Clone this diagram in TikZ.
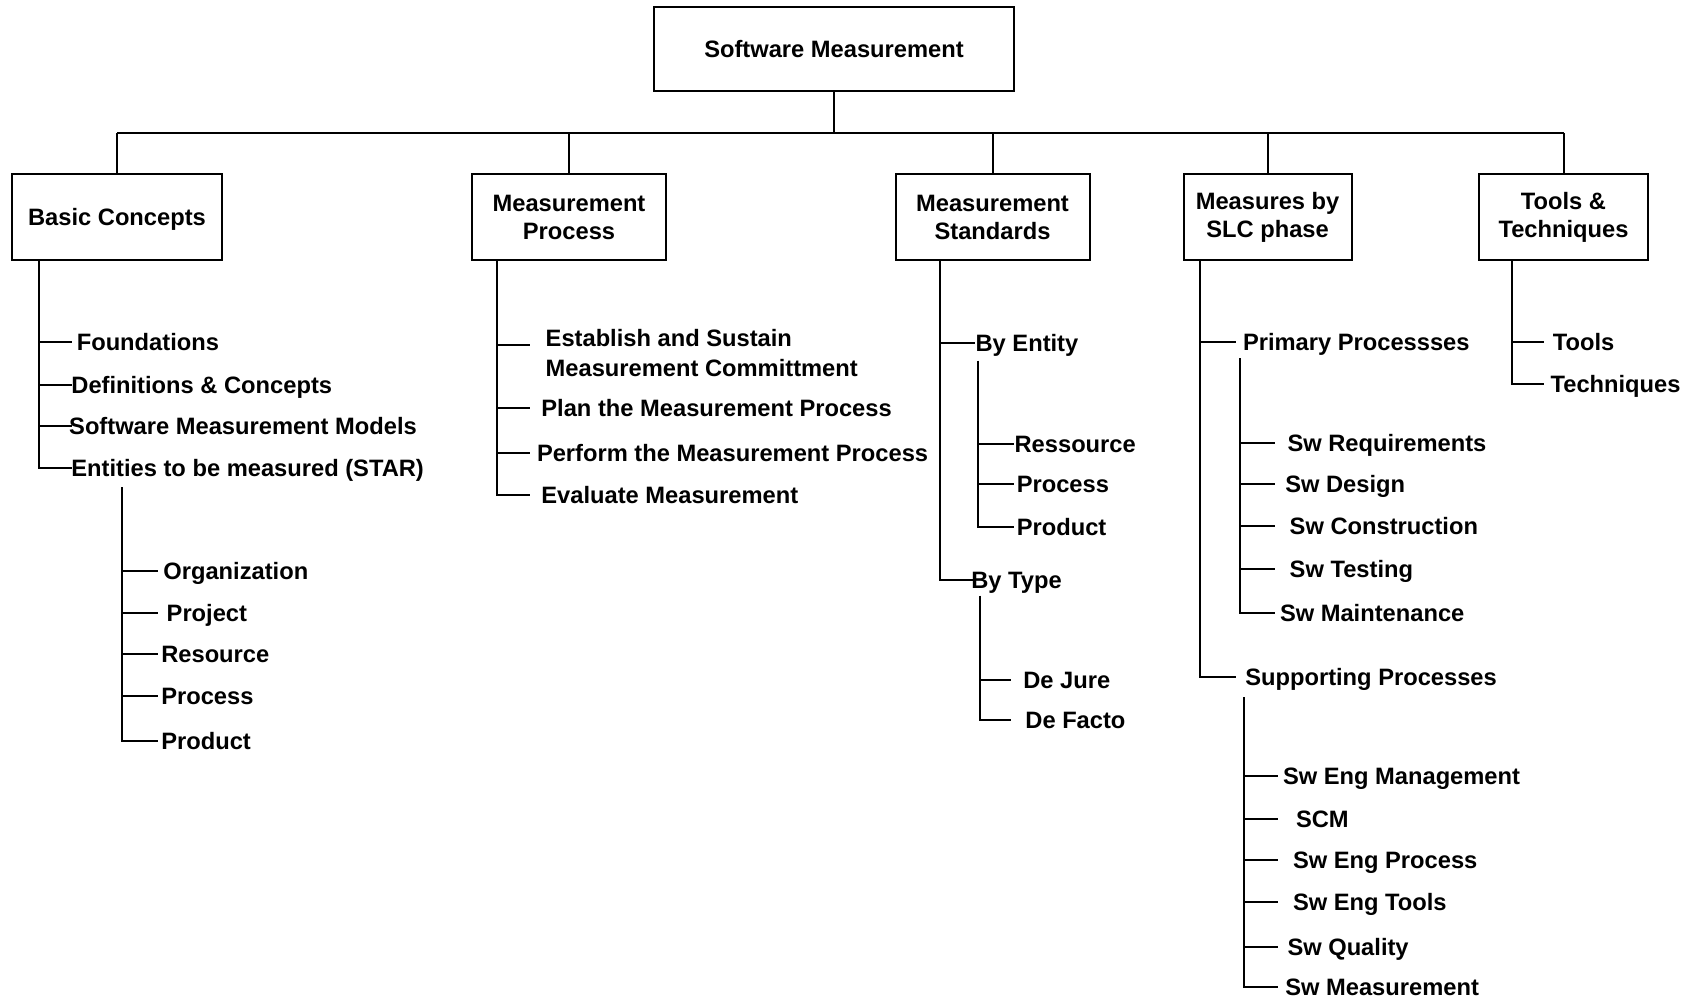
\documentclass[tikz,border=0pt]{standalone}
\usepackage{fontspec}
\setmainfont{Liberation Sans}
\usepackage{tikz}

\tikzset{
  box/.style={draw, line width=1pt, align=center, minimum height=43pt,
    font=\bfseries\fontsize{11.85}{14}\selectfont},
  item/.style={anchor=west, inner sep=0pt, text height=8.5pt, text depth=0pt,
    font=\bfseries\fontsize{11.85}{14}\selectfont}
}

\begin{document}
\begin{tikzpicture}[x=0.5pt,y=-0.5pt,line width=1pt]
  \useasboundingbox (0,0) rectangle (1698,1001);

  % root and bus
  \node[box, minimum width=180pt, minimum height=42pt] (sm) at (834,48.7) {Software Measurement};
  \coordinate (busL) at (117,132.7);
  \coordinate (busR) at (1563.8,132.7);
  \draw (sm.south) -- (sm.south |- busL);
  \draw (busL) -- (busR);

  % main areas
  \node[box, minimum width=105pt, text height=8.5pt, text depth=0pt] (bc) at (117,217) {Basic Concepts};
  \node[box, minimum width=97pt] (mp) at (569,217) {Measurement\\Process};
  \node[box, minimum width=97pt] (ms) at (992.5,217) {Measurement\\Standards};
  \node[box, minimum width=84pt] (slc) at (1267.6,217) {Measures by\\SLC phase};
  \node[box, minimum width=84.5pt] (tt) at (1563.5,217) {Tools \&\\Techniques};
  \foreach \b in {bc,mp,ms,slc,tt}
    \draw (\b.north) -- (\b.north |- busL);

  % Basic Concepts
  \coordinate (bcstem) at (39,0);
  \coordinate (bcend) at (71.5,0);
  \foreach \nm/\tx/\y/\txt in {found/75.8/342/Foundations,
      defs/70.4/384.5/Definitions \& Concepts,
      models/68.2/425.6/Software Measurement Models,
      star/70.4/467.8/Entities to be measured (STAR)}
    \node[item] (\nm) at (\tx,\y) {\txt};
  \draw (bc.south -| bcstem) |- (star.west -| bcend);
  \foreach \nm in {found,defs,models}
    \draw (\nm.west -| bcstem) -- (\nm.west -| bcend);

  \coordinate (starstem) at (122.4,487);
  \coordinate (starend) at (158,0);
  \foreach \nm/\tx/\y/\txt in {org/162.4/570.7/Organization,
      proj/165.7/612.9/Project, res/160.3/654/Resource,
      proc/160.3/696.3/Process, prod/160.3/740.7/Product}
    \node[item] (\nm) at (\tx,\y) {\txt};
  \draw (starstem) |- (prod.west -| starend);
  \foreach \nm in {org,proj,res,proc}
    \draw (\nm.west -| starstem) -- (\nm.west -| starend);

  % Measurement Process
  \coordinate (mpstem) at (497,0);
  \coordinate (mpend) at (529.5,0);
  \node[anchor=north west, inner sep=0pt, align=left,
    font=\bfseries\fontsize{11.85}{15}\selectfont] (estab) at (544.7,328.3)
    {Establish and Sustain\\Measurement Committment};
  \coordinate (establine) at ([yshift=-8.5pt]estab.north west);
  \foreach \nm/\tx/\y/\txt in {plan/540.4/408.3/Plan the Measurement Process,
      perf/536/452.7/Perform the Measurement Process,
      eval/540.4/495/Evaluate Measurement}
    \node[item] (\nm) at (\tx,\y) {\txt};
  \draw (mp.south -| mpstem) |- (eval.west -| mpend);
  \draw (establine -| mpstem) -- (establine -| mpend);
  \foreach \nm in {plan,perf}
    \draw (\nm.west -| mpstem) -- (\nm.west -| mpend);

  % Measurement Standards
  \coordinate (msstem) at (940,0);
  \coordinate (msend) at (974.6,0);
  \node[item] (entity) at (974.6,343.3) {By Entity};
  \node[item] (type) at (970.3,580.4) {By Type};
  \draw (ms.south -| msstem) |- (type.west -| msend);
  \draw (entity.west -| msstem) -- (entity.west -| msend);

  \coordinate (entstem) at (978,360.6);
  \coordinate (entend) at (1013.6,0);
  \foreach \nm/\tx/\y/\txt in {eres/1013.6/444/Ressource,
      eproc/1015.8/484/Process, eprod/1015.8/527.4/Product}
    \node[item] (\nm) at (\tx,\y) {\txt};
  \draw (entstem) |- (eprod.west -| entend);
  \foreach \nm in {eres,eproc}
    \draw (\nm.west -| entstem) -- (\nm.west -| entend);

  \coordinate (typestem) at (980,595.6);
  \coordinate (typeend) at (1011.4,0);
  \node[item] (jure) at (1022.3,680) {De Jure};
  \node[item] (facto) at (1024.4,720) {De Facto};
  \draw (typestem) |- (facto.west -| typeend);
  \draw (jure.west -| typestem) -- (jure.west -| typeend);

  % Measures by SLC phase
  \coordinate (slcstem) at (1200,0);
  \coordinate (slcend) at (1235.6,0);
  \node[item] (prim) at (1242,342.2) {Primary Processses};
  \node[item] (supp) at (1244.3,676.8) {Supporting Processes};
  \draw (slc.south -| slcstem) |- (supp.west -| slcend);
  \draw (prim.west -| slcstem) -- (prim.west -| slcend);

  \coordinate (primstem) at (1240,358.4);
  \coordinate (primend) at (1274.6,0);
  \foreach \nm/\tx/\y/\txt in {req/1286.5/443/Sw Requirements,
      des/1284.3/484/Sw Design, cons/1288.7/526.3/Sw Construction,
      test/1288.7/568.5/Sw Testing, maint/1279/613/Sw Maintenance}
    \node[item] (\nm) at (\tx,\y) {\txt};
  \draw (primstem) |- (maint.west -| primend);
  \foreach \nm in {req,des,cons,test}
    \draw (\nm.west -| primstem) -- (\nm.west -| primend);

  \coordinate (suppstem) at (1244.3,697.4);
  \coordinate (suppend) at (1277.8,0);
  \foreach \nm/\tx/\y/\txt in {mgmt/1282/776.4/Sw Eng Management,
      scm/1295/818.7/SCM, sweproc/1292/859.8/Sw Eng Process,
      tools/1292/902/Sw Eng Tools, qual/1286.5/946.5/Sw Quality,
      meas/1284.3/986.5/Sw Measurement}
    \node[item] (\nm) at (\tx,\y) {\txt};
  \draw (suppstem) |- (meas.west -| suppend);
  \foreach \nm in {mgmt,scm,sweproc,tools,qual}
    \draw (\nm.west -| suppstem) -- (\nm.west -| suppend);

  % Tools & Techniques
  \coordinate (ttstem) at (1511.7,0);
  \coordinate (ttend) at (1544,0);
  \node[item] (tool) at (1551.8,342.2) {Tools};
  \node[item] (tech) at (1549.6,384.4) {Techniques};
  \draw (tt.south -| ttstem) |- (tech.west -| ttend);
  \draw (tool.west -| ttstem) -- (tool.west -| ttend);
\end{tikzpicture}
\end{document}
